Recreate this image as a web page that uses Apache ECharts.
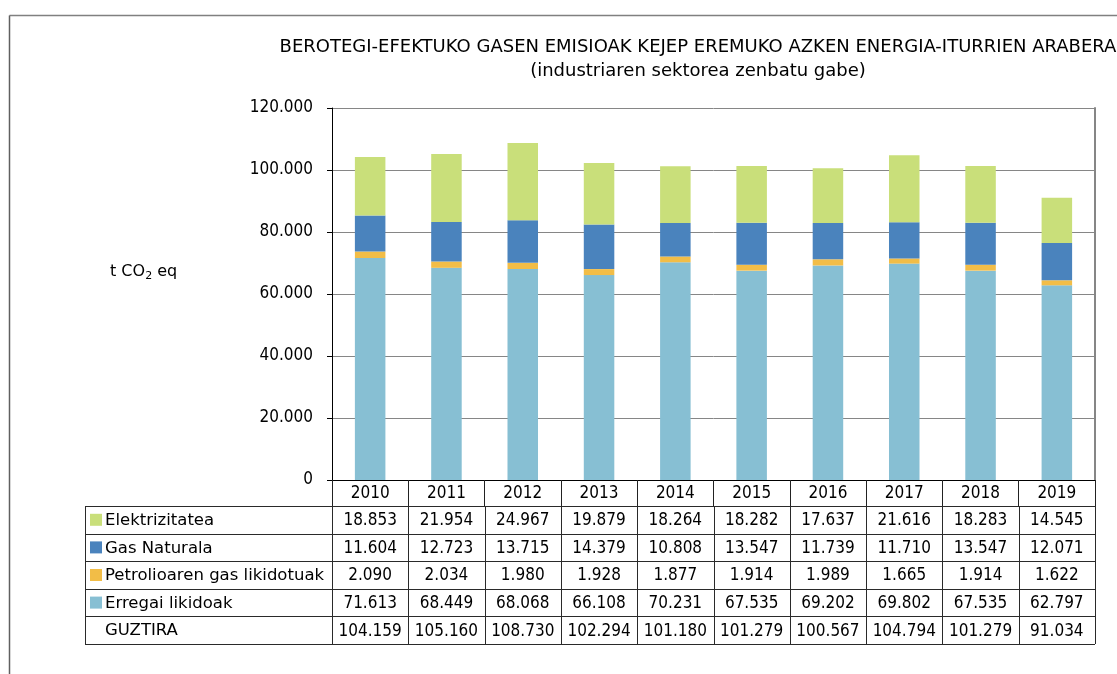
<!DOCTYPE html>
<html>
<head>
<meta charset="utf-8">
<script src="https://cdn.jsdelivr.net/npm/echarts@6/dist/echarts.min.js"></script>
<style>
html,body{margin:0;padding:0;background:#fff;}
#chart{width:1117px;height:674px;}
</style>
</head>
<body>
<div id="chart"></div>
<script>
// ---- data ----
const years = ['2010','2011','2012','2013','2014','2015','2016','2017','2018','2019'];
const elektrizitatea = [18853, 21954, 24967, 19879, 18264, 18282, 17637, 21616, 18283, 14545];
const gasNaturala = [11604, 12723, 13715, 14379, 10808, 13547, 11739, 11710, 13547, 12071];
const petrolioGas = [2090, 2034, 1980, 1928, 1877, 1914, 1989, 1665, 1914, 1622];
const erregaiLikidoak = [71613, 68449, 68068, 66108, 70231, 67535, 69202, 69802, 67535, 62797];
const guztira = [104159, 105160, 108730, 102294, 101180, 101279, 100567, 104794, 101279, 91034];
const seriesNames = ['Elektrizitatea', 'Gas Naturala', 'Petrolioaren gas likidotuak', 'Erregai likidoak'];
const totalLabel = 'GUZTIRA';
const titleLine1 = 'BEROTEGI-EFEKTUKO GASEN EMISIOAK KEJEP EREMUKO AZKEN ENERGIA-ITURRIEN ARABERA';
const titleLine2 = '(industriaren sektorea zenbatu gabe)';

// ---- style ----
const FONT_N = '"DejaVu Sans Condensed", "DejaVu Sans", sans-serif';
const FONT_W = '"DejaVu Sans", sans-serif';
const colors = {
  'Elektrizitatea': '#c9df7a',
  'Gas Naturala': '#4a83bd',
  'Petrolioaren gas likidotuak': '#f2bd47',
  'Erregai likidoak': '#87bfd3'
};
const fmt = v => String(Math.round(v)).replace(/\B(?=(\d{3})+(?!\d))/g, '.');

const chart = echarts.init(document.getElementById('chart'));
const seriesData = {
  'Elektrizitatea': elektrizitatea,
  'Gas Naturala': gasNaturala,
  'Petrolioaren gas likidotuak': petrolioGas,
  'Erregai likidoak': erregaiLikidoak
};
const stackOrder = ['Erregai likidoak', 'Petrolioaren gas likidotuak', 'Gas Naturala', 'Elektrizitatea'];

const option = {
  animation: false,
  backgroundColor: '#fff',
  textStyle: { fontFamily: FONT_N },
  grid: { left: 332, right: 22, top: 108, bottom: 194, containLabel: false },
  xAxis: {
    type: 'category',
    data: years,
    axisLine: { show: true, lineStyle: { color: '#000', width: 1 } },
    axisTick: { show: true, length: 26, lineStyle: { color: '#222', width: 1 } },
    axisLabel: { margin: 5, fontSize: 17, color: '#000', fontFamily: FONT_N }
  },
  yAxis: [{
    type: 'value', min: 0, max: 120000, interval: 20000,
    axisLine: { show: true, lineStyle: { color: '#000', width: 1 } },
    axisTick: { show: true, length: 5, lineStyle: { color: '#000' } },
    splitLine: { show: true, lineStyle: { color: '#868686', width: 1 } },
    axisLabel: { margin: 19, fontSize: 17, color: '#000', fontFamily: FONT_N, formatter: v => fmt(v) }
  }, {
    type: 'value', min: 0, max: 120000, interval: 20000, position: 'right',
    axisLine: { show: true, lineStyle: { color: '#868686', width: 2 } },
    axisTick: { show: false }, axisLabel: { show: false }, splitLine: { show: false }
  }],
  series: stackOrder.map(name => ({
    name: name,
    type: 'bar',
    stack: 'total',
    barWidth: '40%',
    data: seriesData[name],
    itemStyle: { color: colors[name] }
  }))
};
chart.setOption(option);

// ---- table & annotations built from axis scale ----
function buildGraphics() {
  const c0 = chart.convertToPixel({ xAxisIndex: 0 }, 0);
  const c1 = chart.convertToPixel({ xAxisIndex: 0 }, 1);
  const catW = c1 - c0;
  const plotLeft = c0 - catW / 2;
  const plotRight = plotLeft + catW * years.length;
  const tableLeft = 85;
  const rowTop = 506;
  const rowH = 27.6;
  const rows = seriesNames.map(n => ({ label: n, color: colors[n], values: seriesData[n] }));
  rows.push({ label: totalLabel, color: null, values: guztira });
  const tableBottom = rowTop + rowH * rows.length;
  const lineStyle = { stroke: '#2a2a2a', lineWidth: 1 };
  const els = [];

  // outer frame
  els.push({ type: 'line', shape: { x1: 9.5, y1: 15.5, x2: 1117, y2: 15.5 }, style: { stroke: '#808080', lineWidth: 1.5 }, silent: true });
  els.push({ type: 'line', shape: { x1: 9.5, y1: 15.5, x2: 9.5, y2: 674 }, style: { stroke: '#606060', lineWidth: 1.5 }, silent: true });

  // titles
  els.push({ type: 'text', style: { text: titleLine1, x: 698, y: 47, align: 'center', verticalAlign: 'middle', font: '18px ' + FONT_W, fill: '#000' } });
  els.push({ type: 'text', style: { text: titleLine2, x: 698, y: 71, align: 'center', verticalAlign: 'middle', font: '18px ' + FONT_W, fill: '#000' } });

  // y axis name with subscript
  els.push({
    type: 'text',
    style: {
      x: 110, y: 272, verticalAlign: 'middle',
      text: '{a|t CO}{s|2}{a| eq}',
      rich: {
        a: { fontSize: 16, fontFamily: FONT_W, color: '#000', lineHeight: 20 },
        s: { fontSize: 11, fontFamily: FONT_W, color: '#000', lineHeight: 12, verticalAlign: 'bottom' }
      }
    }
  });

  // horizontal table lines
  for (let r = 0; r <= rows.length; r++) {
    const y = Math.round(rowTop + r * rowH) + 0.5;
    els.push({ type: 'line', shape: { x1: tableLeft, y1: y, x2: plotRight, y2: y }, style: lineStyle, silent: true });
  }
  // vertical table lines
  els.push({ type: 'line', shape: { x1: tableLeft + 0.5, y1: rowTop, x2: tableLeft + 0.5, y2: tableBottom }, style: lineStyle, silent: true });
  for (let i = 0; i <= years.length; i++) {
    const x = Math.round(plotLeft + i * catW) + 0.5;
    els.push({ type: 'line', shape: { x1: x, y1: rowTop, x2: x, y2: tableBottom }, style: lineStyle, silent: true });
  }
  // rows
  rows.forEach((row, r) => {
    const cy = rowTop + r * rowH + rowH / 2;
    if (row.color) {
      els.push({ type: 'rect', shape: { x: 90, y: cy - 6, width: 12, height: 12 }, style: { fill: row.color }, silent: true });
    }
    els.push({ type: 'text', style: { text: row.label, x: 105, y: cy + 1, verticalAlign: 'middle', font: '16.5px ' + FONT_W, fill: '#000' } });
    row.values.forEach((v, i) => {
      const cx = chart.convertToPixel({ xAxisIndex: 0 }, i);
      els.push({ type: 'text', style: { text: fmt(v), x: cx, y: cy + 1, align: 'center', verticalAlign: 'middle', font: '17px ' + FONT_N, fill: '#000' } });
    });
  });
  chart.setOption({ graphic: { elements: els } });
}
buildGraphics();
</script>
</body>
</html>
